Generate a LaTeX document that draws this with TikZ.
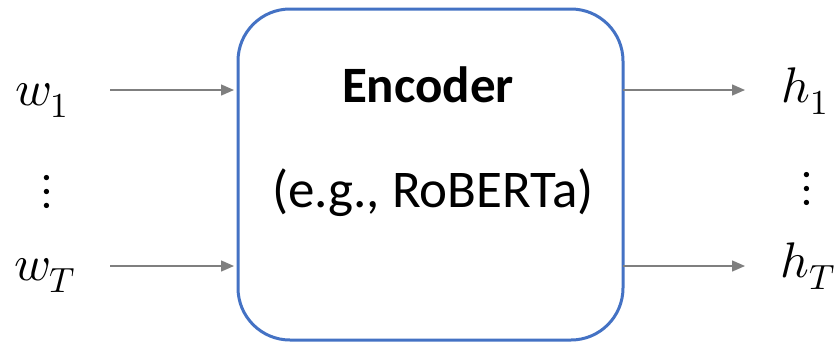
\documentclass[tikz,border=0pt]{standalone}
\usepackage{fontspec}
\usepackage{unicode-math}
\setmainfont{Carlito}
\setmathfont{Latin Modern Math}
\usetikzlibrary{arrows.meta}
\definecolor{encblue}{HTML}{4472C4}
\definecolor{arrowgray}{HTML}{7F7F7F}
\begin{document}
\begin{tikzpicture}[x=1pt,y=-1pt,
  encbox/.style={draw=encblue,line width=3pt,rounded corners=52pt,fill=white},
  flow/.style={draw=arrowgray,line width=1.4pt,-{Triangle[length=13pt,width=11pt]}},
  sym/.style={inner sep=0pt,anchor=base west,font=\fontsize{50}{56}\selectfont},
  dotcol/.style={inner sep=0pt,font=\fontsize{50}{54}\selectfont}]
\useasboundingbox (0,0) rectangle (835,349);
% encoder block
\draw[encbox] (238,9) rectangle (623,340);
\node[inner sep=0pt,anchor=base,font=\fontsize{51}{58}\bfseries\selectfont] (enc) at (428,102) {Encoder};
\node[inner sep=0pt,anchor=base,font=\fontsize{53}{60}\selectfont] (ex) at (433,207) {(e.g., RoBERTa)};
% boundary points on the block
\coordinate (in1) at (234,90);
\coordinate (inT) at (234,266);
\coordinate (out1) at (623,90);
\coordinate (outT) at (623,266);
% inputs
\node[sym] (w1) at (15,105) {$w_1$};
\node[sym] (wT) at (14,280) {$w_T$};
\node[dotcol] (ld) at (47,192) {$\vdots$};
% outputs
\node[sym] (h1) at (781,102) {$h_1$};
\node[sym] (hT) at (780,277) {$h_T$};
\node[dotcol] (rd) at (807,189) {$\vdots$};
% connectors
\coordinate (s1) at (110,90);
\coordinate (sT) at (110,266);
\coordinate (t1) at (745,90);
\coordinate (tT) at (745,266);
\draw[flow] (s1) -- (in1);
\draw[flow] (sT) -- (inT);
\draw[flow] (out1) -- (t1);
\draw[flow] (outT) -- (tT);
\end{tikzpicture}
\end{document}
